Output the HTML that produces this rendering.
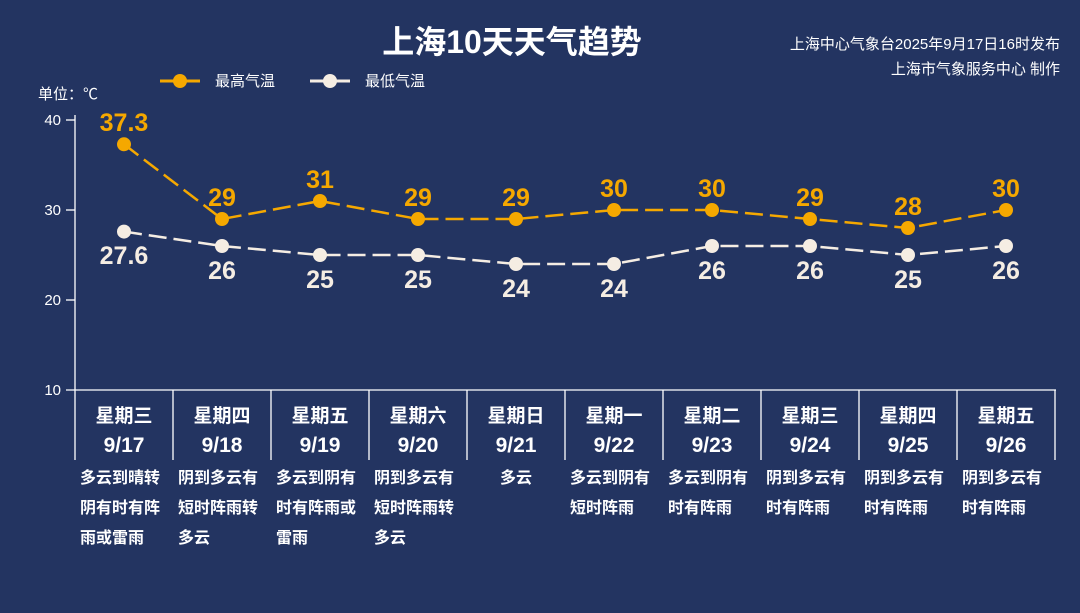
<!DOCTYPE html>
<html><head><meta charset="utf-8"><style>
html,body{margin:0;padding:0;background:#233461;}
svg{display:block;font-family:"Liberation Sans","Noto Sans CJK SC",sans-serif;}
</style></head><body>
<svg width="1080" height="613" viewBox="0 0 1080 613" xmlns="http://www.w3.org/2000/svg">
<rect width="1080" height="613" fill="#233461"/>
<text x="512" y="53" text-anchor="middle" font-size="32" font-weight="bold" fill="#fff">上海10天天气趋势</text>
<text x="1060" y="49" text-anchor="end" font-size="15" fill="#fff">上海中心气象台2025年9月17日16时发布</text>
<text x="1060" y="74" text-anchor="end" font-size="15" fill="#fff">上海市气象服务中心 制作</text>
<line x1="160" y1="81" x2="200" y2="81" stroke="#f5a800" stroke-width="3"/><circle cx="180" cy="81" r="7" fill="#f5a800"/>
<text x="215" y="86" font-size="15" fill="#fff">最高气温</text>
<line x1="310" y1="81" x2="350" y2="81" stroke="#f5ede3" stroke-width="3"/><circle cx="330" cy="81" r="7" fill="#f5ede3"/>
<text x="365" y="86" font-size="15" fill="#fff">最低气温</text>
<text x="38" y="99" font-size="15" fill="#fff">单位：℃</text>
<g stroke="#fff" stroke-width="1.3">
<line x1="75" y1="115" x2="75" y2="460"/>
<line x1="66" y1="120" x2="75" y2="120"/><line x1="66" y1="210" x2="75" y2="210"/>
<line x1="66" y1="300" x2="75" y2="300"/><line x1="66" y1="390" x2="1056" y2="390"/>
<line x1="173" y1="390" x2="173" y2="460"/><line x1="271" y1="390" x2="271" y2="460"/>
<line x1="369" y1="390" x2="369" y2="460"/><line x1="467" y1="390" x2="467" y2="460"/>
<line x1="565" y1="390" x2="565" y2="460"/><line x1="663" y1="390" x2="663" y2="460"/>
<line x1="761" y1="390" x2="761" y2="460"/><line x1="859" y1="390" x2="859" y2="460"/>
<line x1="957" y1="390" x2="957" y2="460"/><line x1="1055" y1="390" x2="1055" y2="460"/>
</g>
<g font-size="15" fill="#fff" text-anchor="end">
<text x="61" y="125">40</text><text x="61" y="215">30</text><text x="61" y="305">20</text><text x="61" y="395">10</text>
</g>
<polyline fill="none" stroke="#f5a800" stroke-width="2.5" stroke-dasharray="18,7" points="124,144.3 222,219 320,201 418,219 516,219 614,210 712,210 810,219 908,228 1006,210"/>
<polyline fill="none" stroke="#f5ede3" stroke-width="2.5" stroke-dasharray="18,7" points="124,231.6 222,246 320,255 418,255 516,264 614,264 712,246 810,246 908,255 1006,246"/>
<g fill="#f5a800">
<circle cx="124" cy="144.3" r="7"/><circle cx="222" cy="219" r="7"/><circle cx="320" cy="201" r="7"/><circle cx="418" cy="219" r="7"/><circle cx="516" cy="219" r="7"/><circle cx="614" cy="210" r="7"/><circle cx="712" cy="210" r="7"/><circle cx="810" cy="219" r="7"/><circle cx="908" cy="228" r="7"/><circle cx="1006" cy="210" r="7"/>
</g>
<g fill="#f5ede3">
<circle cx="124" cy="231.6" r="7"/><circle cx="222" cy="246" r="7"/><circle cx="320" cy="255" r="7"/><circle cx="418" cy="255" r="7"/><circle cx="516" cy="264" r="7"/><circle cx="614" cy="264" r="7"/><circle cx="712" cy="246" r="7"/><circle cx="810" cy="246" r="7"/><circle cx="908" cy="255" r="7"/><circle cx="1006" cy="246" r="7"/>
</g>
<g font-size="25" font-weight="bold" fill="#f5a800" text-anchor="middle">
<text x="124" y="131">37.3</text><text x="222" y="206">29</text><text x="320" y="188">31</text><text x="418" y="206">29</text><text x="516" y="206">29</text><text x="614" y="197">30</text><text x="712" y="197">30</text><text x="810" y="206">29</text><text x="908" y="215">28</text><text x="1006" y="197">30</text>
</g>
<g font-size="25" font-weight="bold" fill="#f5ede3" text-anchor="middle">
<text x="124" y="264">27.6</text><text x="222" y="279">26</text><text x="320" y="288">25</text><text x="418" y="288">25</text><text x="516" y="297">24</text><text x="614" y="297">24</text><text x="712" y="279">26</text><text x="810" y="279">26</text><text x="908" y="288">25</text><text x="1006" y="279">26</text>
</g>
<g font-size="19" font-weight="bold" fill="#fff" text-anchor="middle">
<text x="124" y="422">星期三</text><text x="222" y="422">星期四</text><text x="320" y="422">星期五</text><text x="418" y="422">星期六</text><text x="516" y="422">星期日</text><text x="614" y="422">星期一</text><text x="712" y="422">星期二</text><text x="810" y="422">星期三</text><text x="908" y="422">星期四</text><text x="1006" y="422">星期五</text>
</g>
<g font-size="21" font-weight="bold" fill="#fff" text-anchor="middle">
<text x="124" y="452">9/17</text><text x="222" y="452">9/18</text><text x="320" y="452">9/19</text><text x="418" y="452">9/20</text><text x="516" y="452">9/21</text><text x="614" y="452">9/22</text><text x="712" y="452">9/23</text><text x="810" y="452">9/24</text><text x="908" y="452">9/25</text><text x="1006" y="452">9/26</text>
</g>
<g font-size="16" font-weight="bold" fill="#fff">
<text x="80" y="483">多云到晴转</text><text x="80" y="513">阴有时有阵</text><text x="80" y="543">雨或雷雨</text>
<text x="178" y="483">阴到多云有</text><text x="178" y="513">短时阵雨转</text><text x="178" y="543">多云</text>
<text x="276" y="483">多云到阴有</text><text x="276" y="513">时有阵雨或</text><text x="276" y="543">雷雨</text>
<text x="374" y="483">阴到多云有</text><text x="374" y="513">短时阵雨转</text><text x="374" y="543">多云</text>
<text x="516" y="483" text-anchor="middle">多云</text>
<text x="570" y="483">多云到阴有</text><text x="570" y="513">短时阵雨</text>
<text x="668" y="483">多云到阴有</text><text x="668" y="513">时有阵雨</text>
<text x="766" y="483">阴到多云有</text><text x="766" y="513">时有阵雨</text>
<text x="864" y="483">阴到多云有</text><text x="864" y="513">时有阵雨</text>
<text x="962" y="483">阴到多云有</text><text x="962" y="513">时有阵雨</text>
</g>
</svg>
</body></html>
